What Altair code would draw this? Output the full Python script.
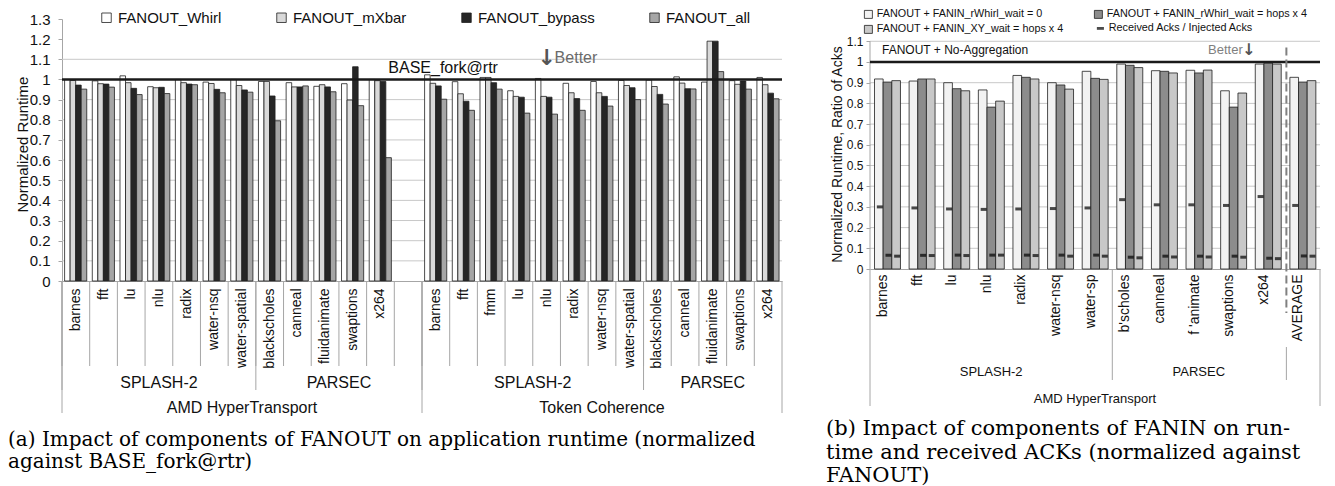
import altair as alt
import pandas as pd

FONT = "Liberation Sans"
SERIF = "DejaVu Serif"

# ---------------- (a) data ----------------
a_series = ["FANOUT_Whirl", "FANOUT_mXbar", "FANOUT_bypass", "FANOUT_all"]
a_colors = ["#ffffff", "#d9d9d9", "#262626", "#a6a6a6"]

amd_benchmarks = ["barnes", "fft", "lu", "nlu", "radix", "water-nsq", "water-spatial",
                  "blackscholes", "canneal", "fluidanimate", "swaptions", "x264"]
amd_whirl = [1.000, 0.993, 1.018, 0.964, 1.000, 0.987, 1.000, 0.990, 0.984, 0.966, 0.979, 1.000]
amd_mxbar = [0.995, 0.979, 0.984, 0.959, 0.984, 0.980, 0.970, 0.990, 0.963, 0.974, 0.898, 0.994]
amd_bypass = [0.972, 0.977, 0.956, 0.961, 0.977, 0.951, 0.948, 0.918, 0.963, 0.963, 1.063, 0.990]
amd_all = [0.952, 0.962, 0.925, 0.930, 0.974, 0.934, 0.937, 0.795, 0.968, 0.939, 0.870, 0.612]

tc_benchmarks = ["barnes", "fft", "fmm", "lu", "nlu", "radix", "water-nsq", "water-spatial",
                 "blackscholes", "canneal", "fluidanimate", "swaptions", "x264"]
tc_whirl = [1.023, 0.989, 1.010, 0.944, 1.005, 0.981, 0.990, 0.995, 0.997, 1.013, 0.987, 0.994, 1.010]
tc_mxbar = [0.981, 0.929, 1.010, 0.916, 0.916, 0.934, 0.934, 0.970, 0.965, 0.982, 1.190, 0.976, 0.974]
tc_bypass = [0.968, 0.892, 0.984, 0.912, 0.912, 0.905, 0.916, 0.959, 0.926, 0.954, 1.190, 0.992, 0.932]
tc_all = [0.902, 0.847, 0.952, 0.833, 0.828, 0.847, 0.868, 0.900, 0.878, 0.953, 1.039, 0.952, 0.904]

a_y_ticks = [0, 0.1, 0.2, 0.3, 0.4, 0.5, 0.6, 0.7, 0.8, 0.9, 1, 1.1, 1.2, 1.3]
a_grid = [0.1, 0.2, 0.3, 0.4, 0.5, 0.6, 0.7, 0.8, 0.9, 1.1]
a_base = [1.0]
a_caption = "(a) Impact of components of FANOUT on application runtime (normalized\nagainst  BASE_fork@rtr)"

# ---------------- (b) data ----------------
b_benchmarks = ["barnes", "fft", "lu", "nlu", "radix", "water-nsq", "water-sp",
                "b'scholes", "canneal", "f 'animate", "swaptions", "x264", "AVERAGE"]
b_series = ["FANOUT + FANIN_rWhirl_wait = 0", "FANOUT + FANIN_rWhirl_wait = hops x 4",
            "FANOUT + FANIN_XY_wait = hops x 4"]
b_colors = ["#f2f2f2", "#8c8c8c", "#c8c8c8"]
b_rwhirl0 = [0.918, 0.908, 0.900, 0.865, 0.935, 0.900, 0.955, 0.990, 0.958, 0.960, 0.861, 0.990, 0.926]
b_rwhirl4 = [0.903, 0.918, 0.871, 0.782, 0.926, 0.889, 0.921, 0.984, 0.955, 0.947, 0.782, 0.995, 0.903]
b_xy4 = [0.910, 0.918, 0.861, 0.811, 0.918, 0.869, 0.916, 0.973, 0.947, 0.961, 0.850, 0.990, 0.910]
ack_label = "Received Acks / Injected Acks"
ack_rwhirl0 = [0.300, 0.295, 0.290, 0.288, 0.290, 0.292, 0.295, 0.335, 0.310, 0.310, 0.307, 0.350, 0.307]
ack_rwhirl4 = [0.066, 0.066, 0.067, 0.067, 0.067, 0.067, 0.067, 0.057, 0.062, 0.062, 0.062, 0.052, 0.063]
ack_xy4 = [0.062, 0.065, 0.065, 0.067, 0.065, 0.062, 0.062, 0.054, 0.058, 0.058, 0.057, 0.050, 0.062]
b_y_ticks = [0, 0.1, 0.2, 0.3, 0.4, 0.5, 0.6, 0.7, 0.8, 0.9, 1, 1.1]
b_grid = [0.1, 0.2, 0.3, 0.4, 0.5, 0.6, 0.7, 0.8, 0.9, 1.1]
b_axis_extent = [0, 1.1]
b_base = [1.0]
b_caption = "(b) Impact of components of FANIN on run-\ntime and received ACKs (normalized against\nFANOUT)"

# ---------------- helpers ----------------
GRID = "#c8c8c8"
AXIS = "#a6a6a6"
INK = "#111111"


def sep_rules(keys, band, xenc, y0, y1, **kw):
    return alt.Chart(pd.DataFrame({"key": keys})).mark_rule(color=AXIS, strokeWidth=1, **kw).encode(
        x=xenc(band), y=alt.value(y0), y2=alt.value(y1))


def text_row(labels, keys, band, xenc, y_px, size):
    df = pd.DataFrame({"key": keys, "label": labels})
    return alt.Chart(df).mark_text(font=FONT, fontSize=size, color=INK, baseline="middle").encode(
        x=xenc(band), y=alt.value(y_px), text="label:N")


def note(label, key, band, value, xenc, yenc, size, color=INK, align="center", dx=0,
         font=FONT, weight="normal"):
    df = pd.DataFrame({"key": [key], "value": [value], "label": [label]})
    return alt.Chart(df).mark_text(font=font, fontSize=size, color=color, align=align, dx=dx,
                                   baseline="middle", fontWeight=weight).encode(
        x=xenc(band), y=yenc(), text="label:N")


def hline(values, yenc, **kw):
    return alt.Chart(pd.DataFrame({"value": values})).mark_rule(**kw).encode(y=yenc())


# ---------------- chart (a) ----------------
# each benchmark slot = four bar bands + one spacer band on one band scale
A_W, A_H = 720, 262
A_SUB = ["s1", "s2", "s3", "s4", "pad"]
amd_keys = ["a|" + b for b in amd_benchmarks]
tc_keys = ["t|" + b for b in tc_benchmarks]
a_slots = amd_keys + ["g|"] + tc_keys
a_comp = [k + "#" + s for k in a_slots for s in A_SUB]


def ak(slot, sub="s1"):
    return slot + "#" + sub


rows = []
for keys, groups in ((amd_keys, [amd_whirl, amd_mxbar, amd_bypass, amd_all]),
                     (tc_keys, [tc_whirl, tc_mxbar, tc_bypass, tc_all])):
    for j, (s, vals) in enumerate(zip(a_series, groups)):
        for k, v in zip(keys, vals):
            rows.append({"key": ak(k, A_SUB[j]), "series": s, "value": v})
a_df = pd.DataFrame(rows)

a_xscale = alt.Scale(type="band", domain=a_comp, paddingInner=0, paddingOuter=0)
a_yscale = alt.Scale(domain=[0, 1.3], nice=False)
a_xaxis = alt.Axis(labelExpr="indexof(datum.label, '#s3') > 0 ? "
                             "slice(datum.label, 2, indexof(datum.label, '#')) : ''",
                   labelAngle=270, ticks=False, domainColor=AXIS, labelFontSize=14,
                   labelPadding=7, labelColor=INK, bandPosition=0.5, labelOverlap=False)
a_yaxis = alt.Axis(values=a_y_ticks, format="~g", grid=False, tickSize=4, tickColor=AXIS,
                   domainColor=AXIS, labelFontSize=15, labelPadding=8, labelColor=INK,
                   titleX=-40, titleY=A_H / 2 - 6, titleAngle=270, titleAlign="center",
                   titleBaseline="middle", titleFontSize=15, titleFontWeight="normal",
                   titleColor=INK)
A_TITLE = "Normalized Runtime"


def a_xenc(band=0.5):
    return alt.X("key:N", bandPosition=band, scale=a_xscale, axis=a_xaxis, title=None)


def a_yenc():
    return alt.Y("value:Q", scale=a_yscale, axis=a_yaxis, title=A_TITLE)


a_bars = alt.Chart(a_df).mark_bar(stroke="#1f1f1f", strokeWidth=0.8, xOffset=2.6).encode(
    x=alt.X("key:N", scale=a_xscale, axis=a_xaxis, title=None),
    y=a_yenc(),
    color=alt.Color("series:N", scale=alt.Scale(domain=a_series, range=a_colors),
                    legend=alt.Legend(orient="none", legendX=35, legendY=-11, direction="horizontal",
                                      columns=4, title=None, labelFontSize=15, labelColor=INK,
                                      symbolType="square", symbolSize=90, symbolStrokeColor="#1f1f1f",
                                      symbolStrokeWidth=0.8, columnPadding=52, padding=2,
                                      labelLimit=300)),
)

a_layers = [
    hline(a_grid, a_yenc, color=GRID, strokeWidth=1),
    a_bars,
    hline(a_base, a_yenc, color="#1a1a1a", strokeWidth=2.5),
    note("BASE_fork@rtr", ak("g|"), 0, 1.055, a_xenc, a_yenc, 16, align="left", dx=-6),
    note("\u2193", ak("t|nlu", "s3"), 0.5, 1.105, a_xenc, a_yenc, 22, color="#555555",
         font="DejaVu Sans", weight="bold"),
    note("Better", ak("t|nlu", "s3"), 0.5, 1.108, a_xenc, a_yenc, 16, color="#6b6b6b", align="left",
         dx=8),
    # hierarchical category axis
    sep_rules([ak(k) for k in a_slots], 0, a_xenc, A_H, A_H + 85),
    sep_rules([ak(a_slots[-1], "pad")], 1, a_xenc, A_H, A_H + 132),
    sep_rules([ak("a|barnes"), ak("a|blackscholes"), ak("t|barnes"), ak("t|blackscholes")], 0, a_xenc,
              A_H, A_H + 109),
    sep_rules([ak("a|barnes"), ak("t|barnes")], 0, a_xenc, A_H, A_H + 132),
    text_row(["SPLASH-2", "PARSEC"], [ak("a|nlu", "s3"), ak("t|fluidanimate", "s3")], 0.5, a_xenc,
             A_H + 102, 16),
    text_row(["PARSEC", "SPLASH-2"], [ak("a|swaptions"), ak("t|nlu")], 0, a_xenc, A_H + 102, 16),
    text_row(["AMD HyperTransport", "Token Coherence"],
             [ak("a|water-spatial", "s3"), ak("t|water-nsq", "s3")], 0.5, a_xenc, A_H + 127, 16),
    alt.Chart(pd.DataFrame({"t": [a_caption]})).mark_text(
        font=SERIF, fontSize=20, align="left", baseline="top", lineBreak="\n", lineHeight=21.5,
        color="#000000").encode(x=alt.value(-54), y=alt.value(A_H + 149), text="t:N"),
]
chart_a = alt.layer(*a_layers).properties(width=A_W, height=A_H)

# ---------------- chart (b) ----------------
# each benchmark slot = three bar bands + one spacer band
B_W, B_H = 450, 250
B_TOP = round(B_H / 207.0, 4)  # 1.0 sits 207 px above the baseline
B_SUB = ["s1", "s2", "s3", "pad"]
b_comp = [k + "#" + s for k in b_benchmarks for s in B_SUB]


def bk(slot, sub="s1"):
    return slot + "#" + sub


rows = []
for j, (s, vals) in enumerate(zip(b_series, [b_rwhirl0, b_rwhirl4, b_xy4])):
    for k, v in zip(b_benchmarks, vals):
        rows.append({"key": bk(k, B_SUB[j]), "series": s, "value": v})
b_df = pd.DataFrame(rows)
rows = []
for j, (s, vals) in enumerate(zip(b_series, [ack_rwhirl0, ack_rwhirl4, ack_xy4])):
    for k, v in zip(b_benchmarks, vals):
        rows.append({"key": bk(k, B_SUB[j]), "series": s, "value": v, "kind": ack_label})
ack_df = pd.DataFrame(rows)

b_xscale = alt.Scale(type="band", domain=b_comp, paddingInner=0, paddingOuter=0)
b_yscale = alt.Scale(domain=[0, B_TOP], nice=False)
b_xaxis = alt.Axis(labelExpr="indexof(datum.label, '#s2') > 0 ? "
                             "slice(datum.label, 0, indexof(datum.label, '#')) : ''",
                   labelAngle=270, ticks=False, domainColor=AXIS, labelFontSize=14,
                   labelPadding=5, labelColor=INK, bandPosition=1, labelOverlap=False)
b_yaxis = alt.Axis(values=b_y_ticks, format="~g", grid=False, tickSize=4, tickColor=AXIS,
                   domain=False, labelFontSize=12, labelPadding=3, labelColor=INK,
                   titleX=-33, titleY=B_H - 115, titleAngle=270, titleAlign="center",
                   titleBaseline="middle", titleFontSize=14, titleFontWeight="normal",
                   titleColor=INK)
B_TITLE = "Normalized Runtime, Ratio of Acks"


def b_xenc(band=0.5):
    return alt.X("key:N", bandPosition=band, scale=b_xscale, axis=b_xaxis, title=None)


def b_yenc():
    return alt.Y("value:Q", scale=b_yscale, axis=b_yaxis, title=B_TITLE)


b_bars = alt.Chart(b_df).mark_bar(stroke="#1f1f1f", strokeWidth=0.8, xOffset=4.5).encode(
    x=alt.X("key:N", scale=b_xscale, axis=b_xaxis, title=None),
    y=b_yenc(),
    color=alt.Color("series:N", scale=alt.Scale(domain=b_series, range=b_colors),
                    legend=alt.Legend(orient="none", legendX=-8, legendY=-11, direction="horizontal",
                                      columns=2, title=None, labelFontSize=10.8, labelColor=INK,
                                      symbolType="square", symbolSize=64, symbolStrokeColor="#1f1f1f",
                                      symbolStrokeWidth=0.8, columnPadding=28, rowPadding=3,
                                      padding=1, labelOffset=3, labelLimit=260)),
)

b_ticks = alt.Chart(ack_df).mark_tick(orient="horizontal", size=6, thickness=3, xOffset=5.5).encode(
    x=alt.X("key:N", scale=b_xscale, axis=b_xaxis, title=None),
    y=b_yenc(),
    color=alt.Color("kind:N", scale=alt.Scale(domain=[ack_label], range=["#000000"]),
                    legend=alt.Legend(orient="none", legendX=224, legendY=3, title=None,
                                      labelFontSize=10.8, labelColor=INK, padding=1, labelOffset=3,
                                      symbolType="M-1,-0.4H1V0.4H-1Z", symbolSize=50,
                                      symbolStrokeWidth=0, labelLimit=220)),
)

dash = alt.Chart(pd.DataFrame({"key": [bk("AVERAGE")], "value": [1.07]})).mark_rule(
    color="#808080", strokeWidth=2, strokeDash=[8, 4], xOffset=1).encode(
    x=b_xenc(0), y=b_yenc(), y2=alt.value(B_H + 44))

b_axisline = alt.Chart(pd.DataFrame({"key": [bk("barnes")], "value": [b_axis_extent[0]],
                                     "value2": [b_axis_extent[1]]})).mark_rule(
    color=AXIS, strokeWidth=1).encode(x=b_xenc(0), y=b_yenc(), y2="value2:Q")

b_layers = [
    hline(b_grid, b_yenc, color=GRID, strokeWidth=1),
    b_axisline,
    b_bars,
    b_ticks,
    hline(b_base, b_yenc, color="#1a1a1a", strokeWidth=2.5),
    dash,
    note("FANOUT + No-Aggregation", bk("barnes"), 0, 1.06, b_xenc, b_yenc, 12, align="left", dx=12),
    note("Better", bk("x264"), 0, 1.06, b_xenc, b_yenc, 13, color="#7f7f7f", align="right", dx=-8),
    note("\u2193", bk("x264"), 0, 1.06, b_xenc, b_yenc, 16, color="#555555", dx=-2, font="DejaVu Sans",
         weight="bold"),
    sep_rules([bk("barnes")], 0, b_xenc, B_H, B_H + 137),
    sep_rules([bk("AVERAGE", "pad")], 1, b_xenc, B_H, B_H + 137),
    sep_rules([bk("b'scholes")], 0, b_xenc, B_H, B_H + 111),
    sep_rules([bk("AVERAGE")], 0, b_xenc, B_H + 78, B_H + 111, xOffset=1),
    text_row(["SPLASH-2", "PARSEC"], [bk("nlu", "s3"), bk("f 'animate", "s3")], 0, b_xenc, B_H + 103, 13),
    text_row(["AMD HyperTransport"], [bk("water-sp", "s3")], 0, b_xenc, B_H + 130, 13),
    alt.Chart(pd.DataFrame({"t": [b_caption]})).mark_text(
        font=SERIF, fontSize=21, align="left", baseline="top", lineBreak="\n", lineHeight=23.5,
        color="#000000").encode(x=alt.value(-44), y=alt.value(B_H + 149), text="t:N"),
]
chart_b = alt.layer(*b_layers).resolve_scale(color="independent").properties(width=B_W, height=B_H)

chart = alt.hconcat(chart_a, chart_b, spacing=40).properties(
    padding={"left": 0, "top": 0, "right": 0, "bottom": 0}
).configure_view(stroke=None).configure_axis(labelFont=FONT, titleFont=FONT).configure_legend(
    labelFont=FONT)

chart.save("out.html", embed_options={"renderer": "svg", "actions": False})
